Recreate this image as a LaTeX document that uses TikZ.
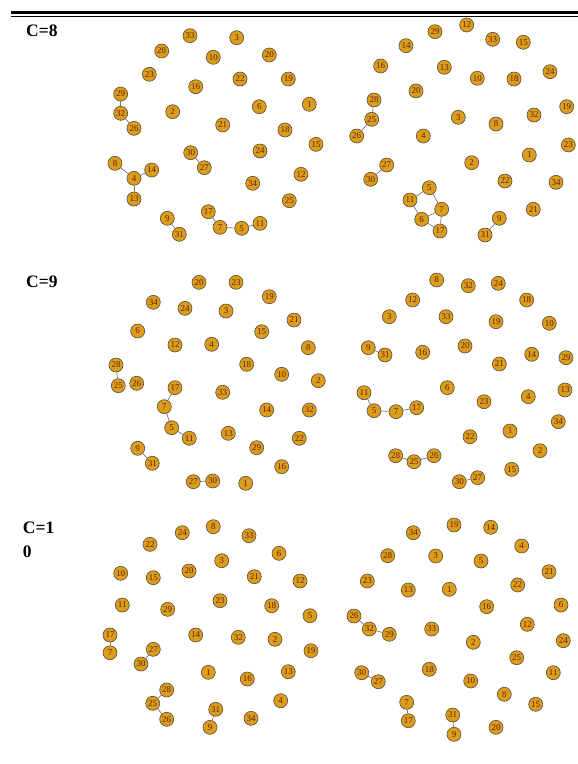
\documentclass[tikz,border=0pt]{standalone}
\usepackage{fontspec}
\setmainfont{Liberation Serif}
\usetikzlibrary{positioning}
\definecolor{nodefill}{RGB}{220,156,28}
\definecolor{nodeedge}{RGB}{85,75,55}
\definecolor{numtext}{RGB}{95,35,15}
\definecolor{linkgray}{RGB}{120,120,120}

\begin{document}
\begin{tikzpicture}[x=1pt, y=-1pt,
  vtx/.style={circle, draw=nodeedge, fill=nodefill, line width=0.6pt, minimum size=14pt, inner sep=0pt, text=numtext, font=\fontsize{9}{9}\selectfont},
  link/.style={linkgray, line width=0.7pt},
  clabel/.style={anchor=base west, inner sep=0pt, font=\fontsize{17.5}{17.5}\selectfont\bfseries}]
  \useasboundingbox (0,0) rectangle (578,764);
  % double rule at the top
  \draw[line width=3pt] (11,12.5) -- (578,12.5);
  \draw[line width=1pt] (11,16) -- (578,16);
  % row labels
  \node[clabel] (c8) at (26,36) {C=8};
  \node[clabel] (c9) at (26,287) {C=9};
  \node[clabel] (c10a) at (22.7,533.5) {C=1};
  \node[clabel] (c10b) at (22.7,557) {0};

  % C=8, left
  \foreach \n/\x/\y in {33/190/35.7, 3/236.7/37.7, 28/161.7/51, 10/213.3/57.3, 20/269.3/55, 23/149.3/74.3, 22/240/79, 19/288.3/79, 16/195.7/86.7, 29/120.7/94, 1/309.3/104.3, 6/259.3/106.7, 2/172.7/111.7, 32/120.7/113.3, 21/222.7/125, 26/134/128.3, 18/285/130, 15/316/144.3, 30/190.7/152.7, 24/260/151, 8/115/163.3, 14/151.7/170, 27/204.3/167.7, 12/301/174.3, 4/134/178.3, 34/252.7/183.3, 13/134/199, 25/289.3/200.7, 17/208.3/211.7, 9/167.3/218.3, 11/260/223.3, 7/220/227.3, 5/241.7/228.3, 31/179.3/234.3}
    \node[vtx] (a\n) at (\x,\y) {\n};
  \foreach \s/\t in {29/32, 32/26, 8/4, 4/14, 4/13, 30/27, 9/31, 17/7, 7/5, 5/11}
    \draw[link] (a\s) -- (a\t);

  % C=8, right
  \foreach \n/\x/\y in {12/466.7/25, 29/435/31.7, 33/492.7/39.3, 15/523.3/42.3, 14/406/45.7, 16/380.7/66, 13/444.3/67.3, 24/550/71.7, 10/477.3/78.3, 18/514/79, 20/416/91, 28/374/100, 19/566.7/106.7, 32/534/115, 3/458.3/117.3, 25/371.7/119.3, 8/496/124, 26/356.7/136, 4/423.3/136, 23/568.3/145, 1/529.3/155, 2/471.7/162.7, 27/386.7/165, 30/370.7/179.3, 22/505/181, 34/556/182.3, 5/429.3/187.7, 11/410/200, 7/441.7/209.3, 21/533.3/209.3, 9/499.3/218.3, 6/421.7/219.3, 17/440/231, 31/485/235}
    \node[vtx] (b\n) at (\x,\y) {\n};
  \foreach \s/\t in {28/25, 25/26, 27/30, 5/11, 5/7, 11/6, 6/7, 7/17, 6/17, 9/31}
    \draw[link] (b\s) -- (b\t);

  % C=9, left
  \foreach \n/\x/\y in {20/199/282.3, 23/236/282.3, 19/269.3/296.7, 34/153.3/302.3, 24/185/308.3, 3/226/311, 21/294/320, 6/137.7/331, 15/261.7/331.7, 12/175/345, 4/211.7/344.3, 8/308.3/347.7, 28/116/365, 18/246.7/364.3, 10/281.7/374.3, 2/318.3/380.7, 25/118.3/385.7, 26/136.7/383.3, 17/175/387.7, 33/222.7/392.3, 7/164.3/406.7, 14/266.7/410, 32/309.3/410, 5/171.7/427.7, 13/228.3/433.3, 11/189.3/438.3, 22/299.3/438.3, 9/137.7/448.3, 29/256.7/447.7, 16/281.7/466.7, 31/152.3/463.3, 27/193.3/481.7, 30/212.7/481, 1/245.7/483.3}
    \node[vtx] (c\n) at (\x,\y) {\n};
  \foreach \s/\t in {28/25, 17/7, 7/5, 5/11, 9/31, 27/30}
    \draw[link] (c\s) -- (c\t);

  % C=9, right
  \foreach \n/\x/\y in {8/436.7/280, 32/468.3/285.7, 24/498.3/283.3, 12/412.7/300, 18/526.7/300, 3/389.3/316.7, 33/446/316.7, 19/496/321.7, 10/549.3/323.3, 9/368.3/347.7, 31/385/355, 16/422.7/352.3, 20/465/346, 14/531.7/354.3, 29/566/357.7, 21/499.3/364, 6/447.3/387.7, 11/364/392.7, 13/565/390, 4/528.3/396.7, 23/484/401.7, 5/374/410.7, 7/396/411.7, 17/416.7/407.7, 34/558.3/421.7, 1/510/431, 22/470/436.7, 2/540/450.7, 28/395.7/455.7, 26/434/455.7, 25/414/461.7, 15/511.7/469.3, 27/477.7/477.7, 30/459.3/481.7}
    \node[vtx] (d\n) at (\x,\y) {\n};
  \foreach \s/\t in {9/31, 11/5, 5/7, 7/17, 28/25, 25/26, 30/27}
    \draw[link] (d\s) -- (d\t);

  % C=10, left
  \foreach \n/\x/\y in {8/213.3/526.7, 24/182.3/532.7, 33/249/535.7, 22/150/544.3, 6/279/553.3, 3/221.7/560.7, 10/120.7/573.3, 20/189/571, 15/153.3/577.7, 21/254.3/576.7, 12/300/581, 23/220/600.7, 11/122.3/605, 18/271.7/605.7, 29/167.7/609.3, 5/310/615.7, 17/110/635, 14/195.7/635, 32/238.3/637.3, 2/275/639.3, 7/110/652.7, 27/153.3/649.3, 19/311/650.7, 30/141/664, 1/208.3/672.3, 13/288.3/671.7, 16/247.3/679, 28/166.7/690, 25/152.7/703.3, 4/280.7/700.7, 31/215.7/709.3, 26/166.7/719.3, 34/251/718.3, 9/210/727.3}
    \node[vtx] (e\n) at (\x,\y) {\n};
  \foreach \s/\t in {17/7, 27/30, 28/25, 25/26, 31/9}
    \draw[link] (e\s) -- (e\t);

  % C=10, right
  \foreach \n/\x/\y in {19/454/525, 14/490.7/527.3, 34/413.3/532.7, 4/521.7/546, 28/387.7/555.7, 3/435.7/556, 5/481/561, 21/549/571.7, 23/367.3/581, 22/517.7/585, 13/408.3/590, 1/449.3/589.3, 16/486.7/606.7, 6/561/605, 26/354/616, 12/527.3/624.3, 32/369.3/629, 29/389.3/634.3, 33/431.7/629, 24/563.3/640.7, 2/473.3/642.3, 25/516.7/657.7, 30/361.7/672.7, 18/429.3/669.3, 11/553.3/672.7, 27/378.3/681.7, 10/470.7/681, 8/504.3/694.3, 15/535.7/704.3, 7/406.7/702.3, 31/452.7/715, 17/408.3/720.7, 20/496/727.3, 9/454/734.3}
    \node[vtx] (f\n) at (\x,\y) {\n};
  \foreach \s/\t in {26/32, 32/29, 30/27, 7/17, 31/9}
    \draw[link] (f\s) -- (f\t);
\end{tikzpicture}
\end{document}
